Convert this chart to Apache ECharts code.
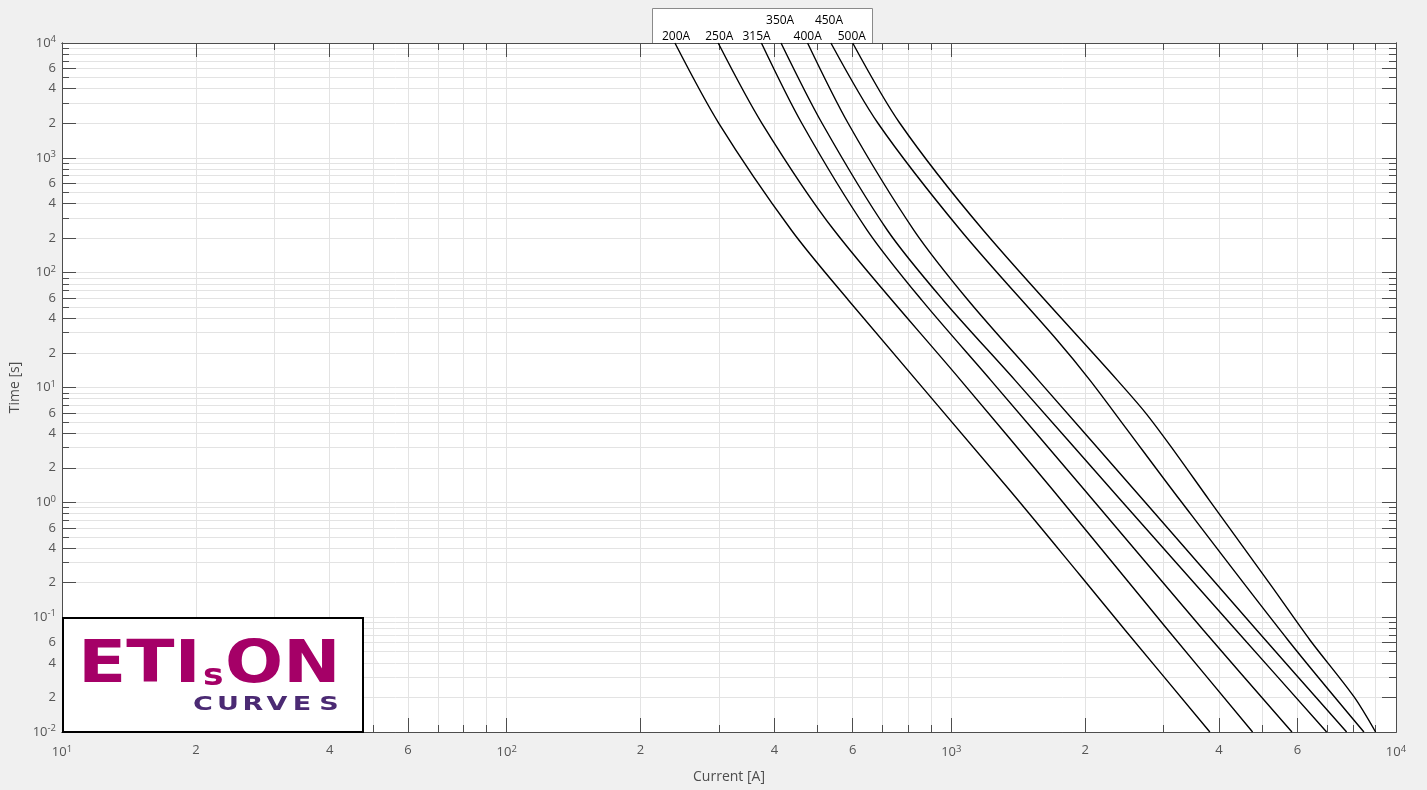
<!DOCTYPE html>
<html>
<head>
<meta charset="utf-8">
<script src="https://cdn.jsdelivr.net/npm/echarts@6/dist/echarts.min.js"></script>
<style>
html,body{margin:0;padding:0;background:#f0f0f0;}
#chart{width:1427px;height:790px;}
</style>
</head>
<body>
<div id="chart"></div>
<script>
// ---- data (current in A, time in s), each curve listed from the top (10^4 s) down ----
const curveNames = ['200A', '250A', '315A', '350A', '400A', '450A', '500A'];

const I200 = [239, 300, 437, 587, 1343, 1946, 2458, 3814];
const T200 = [10000, 2000, 234, 57.6, 1.32, 0.233, 0.0774, 0.01];

const I250 = [299, 375, 545, 1049, 1681, 3069, 4759];
const T250 = [10000, 2000, 234, 11.6, 1.32, 0.0774, 0.01];

const I315 = [374, 461, 647, 858, 1226, 1980, 3686, 5834];
const T315 = [10000, 2000, 234, 57.6, 11.6, 1.32, 0.0774, 0.01];

const I350 = [414, 512, 718, 959, 1390, 2403, 4365, 6982];
const T350 = [10000, 2000, 234, 57.6, 11.6, 1.047, 0.0774, 0.01];

const I400 = [475, 586, 824, 1091, 1568, 2701, 4859, 7744];
const T400 = [10000, 2000, 234, 57.6, 11.6, 1.047, 0.0774, 0.01];

const I450 = [536, 684, 1049, 1728, 2049, 2470, 3267, 5714, 8469];
const T450 = [10000, 2000, 234, 25.9, 11.6, 4.43, 1.047, 0.0633, 0.01];

const I500 = [600, 766, 1180, 2361, 2725, 3101, 3802, 5259, 6403, 8042, 8997];
const T500 = [10000, 2000, 234, 11.6, 6.11, 3.15, 1.047, 0.1843, 0.0633, 0.0203, 0.01];

// ---- tick labels ----
const xLabelValues = [10, 20, 40, 60, 100, 200, 400, 600, 1000, 2000, 4000, 6000, 10000];
const yLabelValues = [0.01, 0.02, 0.04, 0.06, 0.1, 0.2, 0.4, 0.6, 1, 2, 4, 6, 10, 20, 40, 60,
                      100, 200, 400, 600, 1000, 2000, 4000, 6000, 10000];
const mantissas = [1, 2, 3, 4, 5, 6, 7, 8, 9];
const xDecades = [1, 2, 3];
const yDecades = [-2, -1, 0, 1, 2, 3];

// ---- build ----
const L = v => Math.log10(v);
function allTicks(decades) {
  const out = [];
  decades.forEach(k => mantissas.forEach(m => out.push(k + L(m))));
  out.push(decades[decades.length - 1] + 1);
  return out;
}
const xAll = allTicks(xDecades);
const yAll = allTicks(yDecades);
const xLab = xLabelValues.map(L);
const yLab = yLabelValues.map(L);

const AX = '#4d4d4d';
const GRIDC = '#e3e3e3';
const TXT = '#555';
const FONT = '"Open Sans", sans-serif';

function fmt(v) {
  const k = Math.floor(v + 1e-6);
  const m = Math.round(Math.pow(10, v - k));
  if (m === 1 || m === 10) return '{b|10}{s|' + (m === 10 ? k + 1 : k) + '}';
  return '{b|' + m + '}';
}
const rich = {
  b: {fontSize: 13, color: TXT, fontFamily: FONT},
  s: {fontSize: 9.5, color: TXT, fontFamily: FONT, verticalAlign: 'bottom', padding: [0, 0, 7, 0]}
};

function axis(dim, position, ticks, len, opts) {
  const a = {
    type: 'value',
    min: dim === 'x' ? 1 : -2,
    max: 4,
    position: position,
    axisLine: {show: true, onZero: false, lineStyle: {color: AX, width: 1}},
    axisTick: {show: true, inside: true, length: len, customValues: ticks, lineStyle: {color: AX, width: 1}},
    splitLine: {show: false},
    axisLabel: {show: false},
    z: 1
  };
  return Object.assign(a, opts || {});
}

const xAxis = [
  axis('x', 'bottom', xAll, 7, {
    splitLine: {show: true, lineStyle: {color: GRIDC, width: 1}},
    axisLabel: {show: true, customValues: xLab, formatter: fmt, rich: rich, margin: 12},
    name: 'Current [A]', nameLocation: 'middle', nameGap: 38,
    nameTextStyle: {fontSize: 14, color: AX, fontFamily: FONT}
  }),
  axis('x', 'bottom', xLab, 14),
  axis('x', 'top', xAll, 7),
  axis('x', 'top', xLab, 14)
];
const yAxis = [
  axis('y', 'left', yAll, 7, {
    splitLine: {show: true, lineStyle: {color: GRIDC, width: 1}},
    axisLabel: {show: true, customValues: yLab, formatter: fmt, rich: rich, margin: 6, align: 'right'},
    name: 'Time [s]', nameLocation: 'middle', nameGap: 40,
    nameTextStyle: {fontSize: 14, color: AX, fontFamily: FONT}
  }),
  axis('y', 'left', yLab, 14),
  axis('y', 'right', yAll, 7),
  axis('y', 'right', yLab, 14)
];

const curves = [[I200, T200], [I250, T250], [I315, T315], [I350, T350], [I400, T400], [I450, T450], [I500, T500]];
const labelOffsets = [[-15, -6], [-15, -6], [-21, -6], [-17, -22], [-16, -6], [-18, -22], [-17, -6]];

const series = curves.map((c, i) => ({
  name: curveNames[i],
  type: 'line',
  xAxisIndex: 0,
  yAxisIndex: 0,
  showSymbol: false,
  symbol: 'none',
  smooth: 0.3,
  lineStyle: {color: '#000', width: 1.4},
  // reversed so the last point is the top of the curve (label position)
  data: c[0].map((v, j) => [L(v), L(c[1][j])]).reverse(),
  endLabel: {
    show: true,
    formatter: '{a}',
    position: 'top',
    distance: 2,
    offset: labelOffsets[i],
    color: '#000',
    fontSize: 12,
    fontFamily: FONT
  },
  z: 3
}));

const LOGO_M = '#a50067';
const LOGO_P = '#4b2a73';
const LF = '"DejaVu Sans", sans-serif';
const curvesLetters = ['C', 'U', 'R', 'V', 'E', 'S'];
const curvesX = [203, 228, 253, 277, 302, 329];

const graphic = [
  {type: 'rect', z: 1, shape: {x: 652.5, y: 8.5, width: 220, height: 35},
   style: {fill: '#fff', stroke: '#8a8a8a', lineWidth: 1}},
  {type: 'rect', z: 100, shape: {x: 63, y: 618, width: 300, height: 114},
   style: {fill: '#fff', stroke: '#000', lineWidth: 2}},
  {type: 'text', z: 101, x: 78, y: 638, scaleX: 1.22,
   style: {text: 'ETI', font: 'bold 58px ' + LF, fill: LOGO_M, align: 'left', verticalAlign: 'top'}},
  {type: 'text', z: 101, x: 203, y: 662, scaleX: 1.15,
   style: {text: 's', font: 'bold 30px ' + LF, fill: LOGO_M, align: 'left', verticalAlign: 'top'}},
  {type: 'text', z: 101, x: 225, y: 638, scaleX: 1.18,
   style: {text: 'ON', font: 'bold 58px ' + LF, fill: LOGO_M, align: 'left', verticalAlign: 'top'}}
].concat(curvesLetters.map((ch, i) => ({
  type: 'text', z: 101, x: curvesX[i], y: 695, scaleX: 1.35,
  style: {text: ch, font: 'bold 20px ' + LF, fill: LOGO_P, align: 'center', verticalAlign: 'top'}
})));

const option = {
  backgroundColor: '#f0f0f0',
  animation: false,
  grid: {left: 62, right: 31, top: 43, bottom: 58, show: true, backgroundColor: '#fff',
         borderWidth: 0, containLabel: false, outerBoundsMode: 'none'},
  xAxis: xAxis,
  yAxis: yAxis,
  series: series,
  graphic: graphic
};

const chart = echarts.init(document.getElementById('chart'), null, {renderer: 'canvas'});
chart.setOption(option);
</script>
</body>
</html>
